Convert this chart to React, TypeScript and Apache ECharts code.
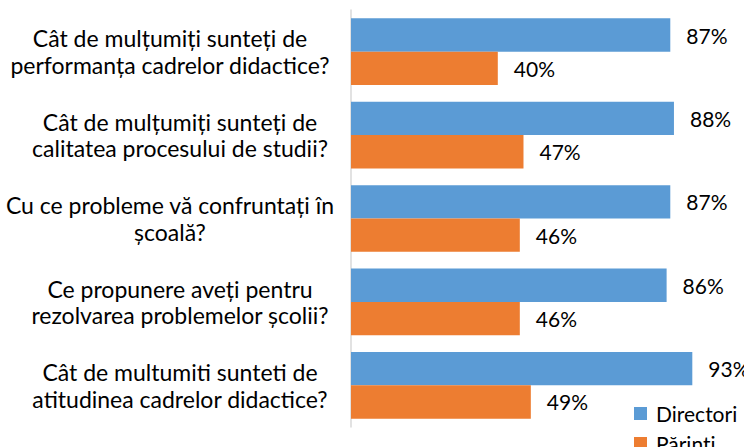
import React, { useEffect, useRef } from "react";
import * as echarts from "echarts";

const categories = [
  "Cât de mulțumiți sunteți de\nperformanța cadrelor didactice?",
  "Cât de mulțumiți sunteți de\ncalitatea procesului de studii?",
  "Cu ce probleme vă confruntați în\nșcoală?",
  "Ce propunere aveți pentru\nrezolvarea problemelor școlii?",
  "Cât de multumiti sunteti de\natitudinea cadrelor didactice?",
];
const seriesNames = ["Directori", "Părinți"];
const directori = [87, 88, 87, 86, 93];
const parinti = [40, 47, 46, 46, 49];

const FONT = "Lato";

export default function App() {
  const ref = useRef<HTMLDivElement>(null);
  useEffect(() => {
    if (!ref.current) return;
    const chart = echarts.init(ref.current, undefined, { renderer: "svg" });
    const shifted = [0, 2];
    const labelStyle = { fontFamily: FONT, fontSize: 23, color: "#000", lineHeight: 26.5 };
    const valueLabel = {
      show: true,
      position: "right",
      distance: 16,
      formatter: "{c}%",
      fontFamily: FONT,
      fontSize: 21,
      color: "#000",
    };
    chart.setOption({
      animation: false,
      grid: { left: 351, right: 26, top: 10, bottom: 20, containLabel: false },
      legend: {
        orient: "vertical",
        left: 634,
        top: 403,
        height: 80,
        padding: 0,
        itemWidth: 13,
        itemHeight: 13,
        itemGap: 9,
        icon: "rect",
        data: seriesNames,
        textStyle: { fontFamily: FONT, fontSize: 21, color: "#000", padding: [0, 0, 0, 4] },
      },
      xAxis: {
        type: "value",
        min: 0,
        max: 100,
        show: false,
        splitLine: { show: false },
      },
      yAxis: {
        type: "category",
        inverse: true,
        data: categories,
        axisLine: { show: true, lineStyle: { color: "#D9D9D9", width: 1.5 } },
        axisTick: { show: false },
        axisLabel: {
          margin: 171,
          align: "center",
          formatter: (value: string, idx: number) => {
            const key = shifted.includes(idx) ? "b" : "a";
            return value
              .split("\n")
              .map((l) => `{${key}|${l}}`)
              .join("\n");
          },
          rich: {
            a: { ...labelStyle },
            b: { ...labelStyle, padding: [0, 20, 0, 0] },
          },
        },
      },
      series: [
        {
          name: seriesNames[0],
          type: "bar",
          data: directori,
          barGap: "0%",
          barCategoryGap: "20%",
          itemStyle: { color: "#5B9BD5" },
          label: valueLabel,
        },
        {
          name: seriesNames[1],
          type: "bar",
          data: parinti,
          barGap: "0%",
          barCategoryGap: "20%",
          itemStyle: { color: "#ED7D31" },
          label: valueLabel,
        },
      ],
    });
    return () => chart.dispose();
  }, []);
  return (
    <div
      ref={ref}
      style={{ position: "absolute", left: 0, top: 0, width: 744, height: 447, background: "#fff" }}
    />
  );
}
